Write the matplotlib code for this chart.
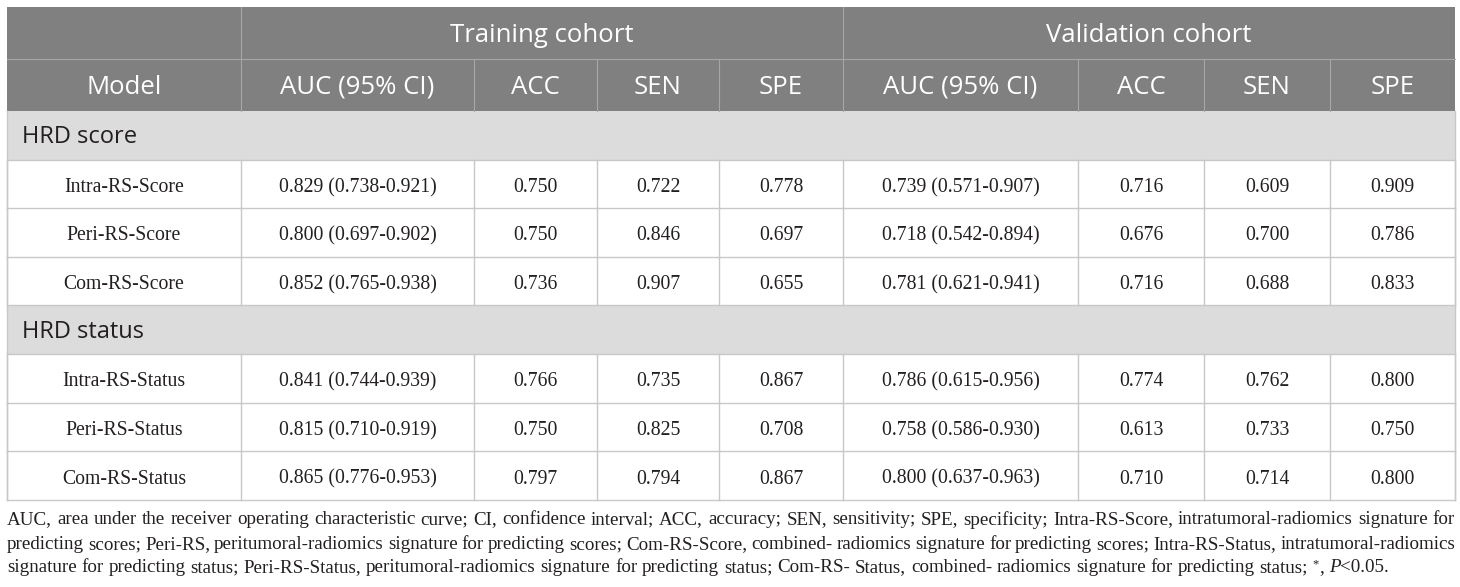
import matplotlib.pyplot as plt
from matplotlib.patches import Rectangle

# table content
groups = ["Training cohort", "Validation cohort"]
col_names = ["Model", "AUC (95% CI)", "ACC", "SEN", "SPE",
             "AUC (95% CI)", "ACC", "SEN", "SPE"]

sections = ["HRD score", "HRD status"]
models = [
    ["Intra-RS-Score", "Peri-RS-Score", "Com-RS-Score"],
    ["Intra-RS-Status", "Peri-RS-Status", "Com-RS-Status"],
]
train_auc = [
    ["0.829 (0.738-0.921)", "0.800 (0.697-0.902)", "0.852 (0.765-0.938)"],
    ["0.841 (0.744-0.939)", "0.815 (0.710-0.919)", "0.865 (0.776-0.953)"],
]
train_acc = [["0.750", "0.750", "0.736"], ["0.766", "0.750", "0.797"]]
train_sen = [["0.722", "0.846", "0.907"], ["0.735", "0.825", "0.794"]]
train_spe = [["0.778", "0.697", "0.655"], ["0.867", "0.708", "0.867"]]
val_auc = [
    ["0.739 (0.571-0.907)", "0.718 (0.542-0.894)", "0.781 (0.621-0.941)"],
    ["0.786 (0.615-0.956)", "0.758 (0.586-0.930)", "0.800 (0.637-0.963)"],
]
val_acc = [["0.716", "0.676", "0.716"], ["0.774", "0.613", "0.710"]]
val_sen = [["0.609", "0.700", "0.688"], ["0.762", "0.733", "0.714"]]
val_spe = [["0.909", "0.786", "0.833"], ["0.800", "0.750", "0.800"]]

footnote = [
    "AUC, area under the receiver operating characteristic curve; CI, confidence interval; ACC, accuracy; "
    "SEN, sensitivity; SPE, specificity; Intra-RS-Score, intratumoral-radiomics signature for",
    "predicting scores; Peri-RS, peritumoral-radiomics signature for predicting scores; Com-RS-Score, "
    "combined- radiomics signature for predicting scores; Intra-RS-Status, intratumoral-radiomics",
    "signature for predicting status; Peri-RS-Status, peritumoral-radiomics signature for predicting "
    "status; Com-RS- Status, combined- radiomics signature for predicting status;",
]

# layout (pixels)
W, H = 1460, 587
xs = [7, 241, 474, 597, 719, 843, 1078, 1204, 1330, 1455]
hdr_y = [7, 59, 111]
row_h = 48.6

HDR = "#808080"
SEC = "#dcdcdc"
GRID = "#c8c8c8"
HGRID = "#a6a6a6"
TXT = "#231f20"
sans = ["Open Sans", "DejaVu Sans"]
serif = ["Liberation Serif", "DejaVu Serif"]

fig = plt.figure(figsize=(W / 100, H / 100), dpi=100)
ax = fig.add_axes([0, 0, 1, 1])
ax.set_xlim(0, W)
ax.set_ylim(H, 0)
ax.axis("off")

# header background
ax.add_patch(Rectangle((xs[0], hdr_y[0]), xs[-1] - xs[0], hdr_y[2] - hdr_y[0],
                       facecolor=HDR, edgecolor="none"))
ax.plot([xs[0], xs[-1]], [hdr_y[1]] * 2, color=HGRID, lw=0.8)
ax.plot([xs[1]] * 2, [hdr_y[0], hdr_y[2]], color=HGRID, lw=0.8)
ax.plot([xs[5]] * 2, [hdr_y[0], hdr_y[2]], color=HGRID, lw=0.8)
for x in xs[2:5] + xs[6:9]:
    ax.plot([x, x], [hdr_y[1], hdr_y[2]], color=HGRID, lw=0.8)

hfs = 18.5
ax.text((xs[1] + xs[5]) / 2, (hdr_y[0] + hdr_y[1]) / 2 + 3, groups[0], color="white",
        fontsize=hfs, family=sans, ha="center", va="center")
ax.text((xs[5] + xs[9]) / 2, (hdr_y[0] + hdr_y[1]) / 2 + 3, groups[1], color="white",
        fontsize=hfs, family=sans, ha="center", va="center")
for i, name in enumerate(col_names):
    ax.text((xs[i] + xs[i + 1]) / 2, (hdr_y[1] + hdr_y[2]) / 2 + 2, name, color="white",
            fontsize=hfs, family=sans, ha="center", va="center")

# body
y = hdr_y[2]
for s, sec in enumerate(sections):
    ax.add_patch(Rectangle((xs[0], y), xs[-1] - xs[0], row_h,
                           facecolor=SEC, edgecolor="none"))
    ax.text(xs[0] + 15, y + row_h / 2 + 2, sec, color=TXT, fontsize=17, family=sans,
            ha="left", va="center")
    ax.plot([xs[0], xs[-1]], [y + row_h] * 2, color=GRID, lw=1)
    y += row_h
    for r in range(len(models[s])):
        cells = [models[s][r], train_auc[s][r], train_acc[s][r], train_sen[s][r],
                 train_spe[s][r], val_auc[s][r], val_acc[s][r], val_sen[s][r],
                 val_spe[s][r]]
        for i, c in enumerate(cells):
            ax.text((xs[i] + xs[i + 1]) / 2, y + row_h / 2 + 3.5, c, color=TXT,
                    fontsize=14.2, family=serif, ha="center", va="center")
        for x in xs:
            ax.plot([x, x], [y, y + row_h], color=GRID, lw=1)
        ax.plot([xs[0], xs[-1]], [y + row_h] * 2, color=GRID, lw=1)
        y += row_h
ax.plot([xs[0]] * 2, [hdr_y[2], y], color=GRID, lw=1)
ax.plot([xs[-1]] * 2, [hdr_y[2], y], color=GRID, lw=1)

# footnote, justified
renderer = fig.canvas.get_renderer()
fn_size = 13.7
line_y = [520, 544.5, 568]


def put(x, yy, s, **kw):
    t = ax.text(x, yy, s, fontsize=kw.pop("fontsize", fn_size), family=serif,
                color=TXT, ha="left", va="center", **kw)
    return t.get_window_extent(renderer).width


def word_width(w):
    t = ax.text(0, 0, w, fontsize=fn_size, family=serif)
    bb = t.get_window_extent(renderer)
    t.remove()
    return bb.width


space_w = word_width("a b") - word_width("ab")
for k, line in enumerate(footnote):
    words = line.split(" ")
    widths = [word_width(w) for w in words]
    if k < len(footnote) - 1:
        gap = (xs[-1] - xs[0] - sum(widths)) / (len(words) - 1)
    else:
        gap = space_w
    x = xs[0]
    for w, wd in zip(words, widths):
        put(x, line_y[k], w)
        x += wd + gap
    if k == len(footnote) - 1:
        x += put(x, line_y[k] - 4, "*", fontsize=9)
        x += put(x, line_y[k], ",") + space_w
        x += put(x, line_y[k], "P", style="italic")
        put(x, line_y[k], "<0.05.")

fig.savefig("out.png", dpi=100)
